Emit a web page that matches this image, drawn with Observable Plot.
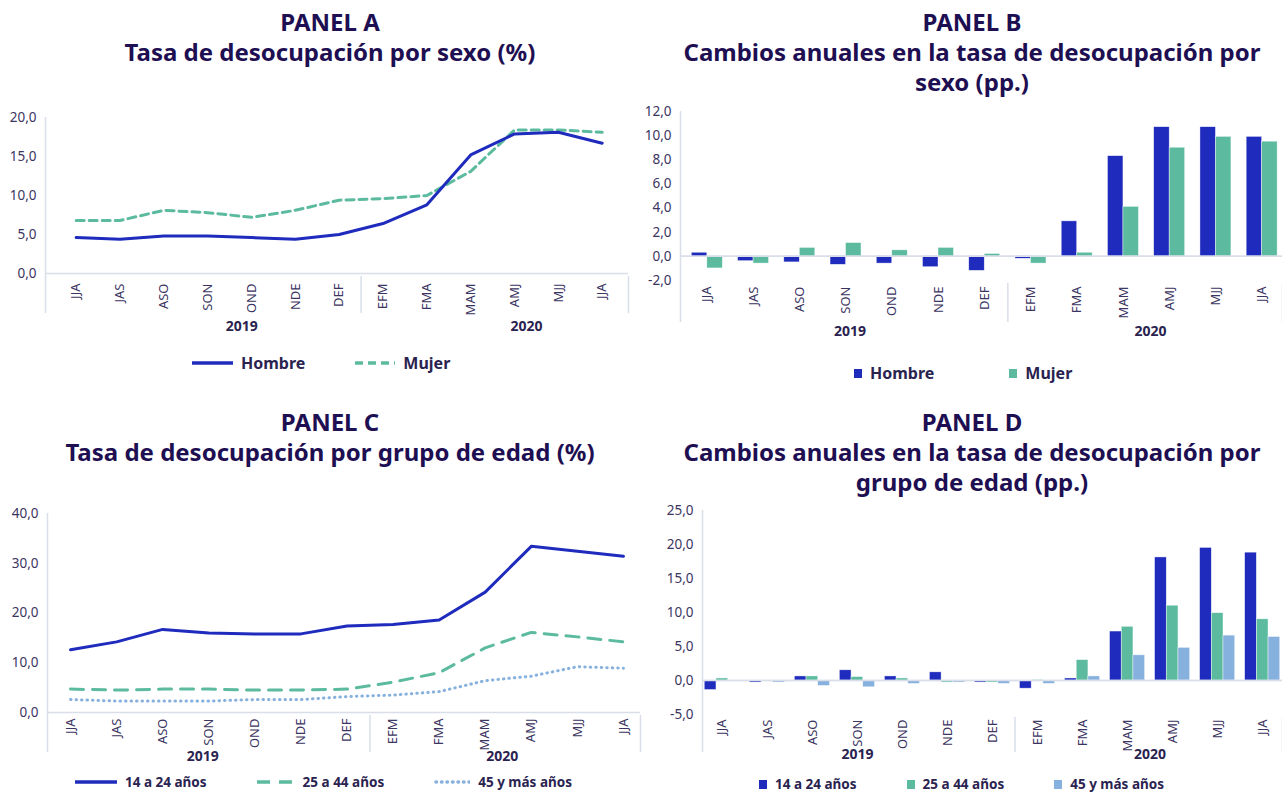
<!DOCTYPE html>
<html>
<head>
<meta charset="utf-8">
<script src="https://cdn.jsdelivr.net/npm/d3@7"></script>
<script src="https://cdn.jsdelivr.net/npm/@observablehq/plot@0.6"></script>
<style>
  html, body { margin: 0; padding: 0; background: #ffffff; }
  body { width: 1282px; height: 792px; position: relative; overflow: hidden; font-family: "Noto Sans", "Open Sans", sans-serif; }
  .title { position: absolute; width: 640px; text-align: center; font-weight: 700; font-size: 24px; line-height: 30px; color: #1e0f52; }
  .chart { position: absolute; }
  .legend { position: absolute; display: flex; align-items: center; font-weight: 700; color: #2a2350; white-space: nowrap; }
  .legend .item { display: flex; align-items: center; }
  .legend svg { display: block; }
</style>
</head>
<body>
<div class="title" style="left:10px; top:7px;">PANEL A<br>Tasa de desocupación por sexo (%)</div>
<div class="title" style="left:652px; top:7px;">PANEL B<br>Cambios anuales en la tasa de desocupación por<br>sexo (pp.)</div>
<div class="title" style="left:10px; top:407px;">PANEL C<br>Tasa de desocupación por grupo de edad (%)</div>
<div class="title" style="left:652px; top:407px;">PANEL D<br>Cambios anuales en la tasa de desocupación por<br>grupo de edad (pp.)</div>

<div id="chartA" class="chart" style="left:0px; top:100px;"></div>
<div id="chartB" class="chart" style="left:640px; top:100px;"></div>
<div id="chartC" class="chart" style="left:0px; top:490px;"></div>
<div id="chartD" class="chart" style="left:640px; top:490px;"></div>

<div id="legendA" class="legend" style="left:192px; top:352px; font-size:16px;"></div>
<div id="legendB" class="legend" style="left:854px; top:362px; font-size:16px;"></div>
<div id="legendC" class="legend" style="left:75px; top:773px; font-size:13.5px;"></div>
<div id="legendD" class="legend" style="left:759px; top:775px; font-size:13.5px;"></div>

<script>
// ---------- DATA ----------
const categories = ["JJA","JAS","ASO","SON","OND","NDE","DEF","EFM","FMA","MAM","AMJ","MJJ","JJA"];
const yearOfCategory = ["2019","2019","2019","2019","2019","2019","2019","2020","2020","2020","2020","2020","2020"];

// Panel A: tasa de desocupación por sexo (%)
const sexSeries = ["Hombre", "Mujer"];
const hombreTasa = [4.6, 4.4, 4.8, 4.8, 4.6, 4.4, 5.0, 6.4, 8.8, 15.2, 17.9, 18.1, 16.7];
const mujerTasa  = [6.8, 6.8, 8.1, 7.8, 7.2, 8.1, 9.4, 9.6, 10.0, 13.1, 18.4, 18.4, 18.1];

// Panel B: cambios anuales por sexo (pp.)
const hombreCambio = [0.3, -0.4, -0.5, -0.7, -0.6, -0.9, -1.2, -0.2, 2.9, 8.3, 10.7, 10.7, 9.9];
const mujerCambio  = [-1.0, -0.6, 0.7, 1.1, 0.5, 0.7, 0.2, -0.6, 0.3, 4.1, 9.0, 9.9, 9.5];

// Panel C: tasa de desocupación por grupo de edad (%)
const ageSeries = ["14 a 24 años", "25 a 44 años", "45 y más años"];
const edad14Tasa = [12.6, 14.2, 16.7, 16.0, 15.8, 15.8, 17.4, 17.7, 18.6, 24.2, 33.4, 32.4, 31.4];
const edad25Tasa = [4.7, 4.5, 4.7, 4.7, 4.5, 4.5, 4.7, 6.1, 8.0, 13.0, 16.1, 15.2, 14.2];
const edad45Tasa = [2.6, 2.3, 2.3, 2.3, 2.6, 2.6, 3.2, 3.5, 4.2, 6.4, 7.3, 9.2, 8.9];

// Panel D: cambios anuales por grupo de edad (pp.)
const edad14Cambio = [-1.4, -0.3, 0.6, 1.5, 0.6, 1.2, -0.3, -1.2, 0.3, 7.2, 18.1, 19.5, 18.8];
const edad25Cambio = [0.3, 0.0, 0.6, 0.5, 0.3, -0.3, -0.3, 0.1, 3.0, 7.9, 11.0, 9.9, 9.0];
const edad45Cambio = [0.0, -0.3, -0.8, -1.0, -0.5, -0.3, -0.5, -0.5, 0.6, 3.7, 4.8, 6.6, 6.4];

// Tick values
const ticksA = [0, 5, 10, 15, 20];
const ticksB = [-2, 0, 2, 4, 6, 8, 10, 12];
const ticksC = [0, 10, 20, 30, 40];
const ticksD = [-5, 0, 5, 10, 15, 20, 25];

// ---------- STYLE ----------
const BLUE = "#1f2bbd";
const GREEN = "#5cbb9f";
const LIGHT = "#86b0dd";
const AXIS = "#d9dee9";
const TICK = "#3b355f";
const FONT = "'Noto Sans', 'Open Sans', sans-serif";

// ---------- HELPERS ----------
const idx = d3.range(categories.length);
const fmt = d => d.toFixed(1).replace(".", ",");
const groups = d3.groups(idx, i => yearOfCategory[i]).map(([year, is]) => ({year, first: d3.min(is), last: d3.max(is), center: (d3.min(is) + d3.max(is)) / 2}));
const innerBounds = groups.slice(1).map((g, k) => (groups[k].last + g.first) / 2);

function long(seriesNames, arrays) {
  return idx.flatMap(i => seriesNames.map((s, k) => ({i, serie: s, k, v: arrays[k][i]})));
}

function panel(cfg) {
  const {width, height, mt, mb, ml, mr, xDomain, yDomain, yTicks, tickPad, yearDx, yearDy, sepLen, marks} = cfg;
  const frameH = height - mt - mb;
  return Plot.plot({
    width, height,
    marginTop: mt, marginBottom: mb, marginLeft: ml, marginRight: mr,
    x: {type: "linear", domain: xDomain, axis: null, label: null},
    y: {domain: yDomain, axis: null, label: null},
    style: {fontFamily: FONT, fontSize: "13px", color: TICK, background: "transparent", overflow: "visible"},
    marks: [
      Plot.axisY({ticks: yTicks, tickSize: 0, tickPadding: 9, tickFormat: fmt, fontSize: 13.5, label: null}),
      Plot.ruleY([0], {stroke: AXIS, strokeWidth: 1.5}),
      // left axis line extending below into the category area
      Plot.ruleX([xDomain[0]], {stroke: AXIS, strokeWidth: 1.5, insetBottom: -sepLen}),
      // group separators below the axis
      Plot.ruleX([...innerBounds, xDomain[1]], {stroke: AXIS, strokeWidth: 1.5, insetTop: frameH + 3, insetBottom: -sepLen}),
      Plot.axisX({ticks: idx, tickFormat: i => categories[i], tickSize: 0, tickRotate: -90, tickPadding: tickPad, fontSize: 13, label: null}),
      Plot.text(groups, {x: "center", text: "year", frameAnchor: "bottom", dy: yearDy, dx: yearDx, fontWeight: "bold", fontSize: 14, fill: "#2a2350"}),
      ...marks
    ]
  });
}

// ---------- PANEL A ----------
const rowsA = long(sexSeries, [hombreTasa, mujerTasa]);
document.getElementById("chartA").append(panel({
  width: 641, height: 245, mt: 17, mb: 72, ml: 45, mr: 13,
  xDomain: [-0.7, 12.6], yDomain: [0, 20], yTicks: ticksA, tickPad: 10,
  yearDx: 34, yearDy: 57, sepLen: 40,
  marks: [
    Plot.line(rowsA.filter(d => d.serie === "Mujer"), {x: "i", y: "v", stroke: GREEN, strokeWidth: 3, strokeDasharray: "8,5"}),
    Plot.line(rowsA.filter(d => d.serie === "Hombre"), {x: "i", y: "v", stroke: BLUE, strokeWidth: 3})
  ]
}));

// ---------- PANEL B ----------
const rowsB = long(sexSeries, [hombreCambio, mujerCambio]);
const wB = 0.335;
document.getElementById("chartB").append(panel({
  width: 642, height: 250, mt: 11, mb: 70, ml: 40, mr: 0,
  xDomain: [-0.58, 12.44], yDomain: [-2, 12], yTicks: ticksB, tickPad: 6,
  yearDx: 4, yearDy: 55, sepLen: 42,
  marks: [
    Plot.rect(rowsB, {x1: d => d.i - wB + d.k * wB, x2: d => d.i + d.k * wB, y1: 0, y2: "v", fill: d => d.k === 0 ? BLUE : GREEN, stroke: "#ffffff", strokeWidth: 0.6, strokeOpacity: 0.7}),
    Plot.ruleY([0], {stroke: AXIS, strokeWidth: 1.5})
  ]
}));

// ---------- PANEL C ----------
const rowsC = long(ageSeries, [edad14Tasa, edad25Tasa, edad45Tasa]);
document.getElementById("chartC").append(panel({
  width: 641, height: 282, mt: 23, mb: 60, ml: 47, mr: 1,
  xDomain: [-0.5, 12.37], yDomain: [0, 40], yTicks: ticksC, tickPad: 6,
  yearDx: -6, yearDy: 48, sepLen: 40,
  marks: [
    Plot.line(rowsC.filter(d => d.k === 2), {x: "i", y: "v", stroke: LIGHT, strokeWidth: 3, strokeDasharray: "0.5,5", strokeLinecap: "round"}),
    Plot.line(rowsC.filter(d => d.k === 1), {x: "i", y: "v", stroke: GREEN, strokeWidth: 3, strokeDasharray: "13,9"}),
    Plot.line(rowsC.filter(d => d.k === 0), {x: "i", y: "v", stroke: BLUE, strokeWidth: 3})
  ]
}));

// ---------- PANEL D ----------
const rowsD = long(ageSeries, [edad14Cambio, edad25Cambio, edad45Cambio]);
const wD = 0.26;
const colorsAge = [BLUE, GREEN, LIGHT];
document.getElementById("chartD").append(panel({
  width: 642, height: 282, mt: 20, mb: 58, ml: 62, mr: 0,
  xDomain: [-0.44, 12.44], yDomain: [-5, 25], yTicks: ticksD, tickPad: 5,
  yearDx: 0, yearDy: 44, sepLen: 38,
  marks: [
    Plot.rect(rowsD.filter(d => d.v !== 0), {x1: d => d.i - 1.5 * wD + d.k * wD, x2: d => d.i - 0.5 * wD + d.k * wD, y1: 0, y2: "v", fill: d => colorsAge[d.k], stroke: "#ffffff", strokeWidth: 0.6, strokeOpacity: 0.7}),
    Plot.ruleY([0], {stroke: AXIS, strokeWidth: 1.5})
  ]
}));

// ---------- LEGENDS ----------
function lineSwatch(color, dash, w) {
  const cap = dash === "0.5,5" ? "round" : "butt";
  return `<svg width="${w}" height="10"><line x1="${cap === "round" ? 2 : 0}" y1="5" x2="${w}" y2="5" stroke="${color}" stroke-width="3.5" ${dash ? `stroke-dasharray="${dash}"` : ""} stroke-linecap="${cap}"/></svg>`;
}
function boxSwatch(color) {
  return `<svg width="8" height="9"><rect x="0" y="0" width="8" height="9" fill="${color}"/></svg>`;
}
function legend(id, items, gapSw, gapItem) {
  document.getElementById(id).innerHTML = items.map((it, n) =>
    `<div class="item" style="margin-right:${n < items.length - 1 ? gapItem : 0}px">${it.sw}<span style="margin-left:${gapSw}px">${it.label}</span></div>`).join("");
}
legend("legendA", [
  {sw: lineSwatch(BLUE, null, 41), label: sexSeries[0]},
  {sw: lineSwatch(GREEN, "8,5", 40), label: sexSeries[1]}
], 8, 50);
legend("legendB", [
  {sw: boxSwatch(BLUE), label: sexSeries[0]},
  {sw: boxSwatch(GREEN), label: sexSeries[1]}
], 8, 75);
legend("legendC", [
  {sw: lineSwatch(BLUE, null, 42), label: ageSeries[0]},
  {sw: lineSwatch(GREEN, "13,9", 38), label: ageSeries[1]},
  {sw: lineSwatch(LIGHT, "0.5,5", 36), label: ageSeries[2]}
], 8, 50);
legend("legendD", [
  {sw: boxSwatch(BLUE), label: ageSeries[0]},
  {sw: boxSwatch(GREEN), label: ageSeries[1]},
  {sw: boxSwatch(LIGHT), label: ageSeries[2]}
], 8, 50);
</script>
</body>
</html>
